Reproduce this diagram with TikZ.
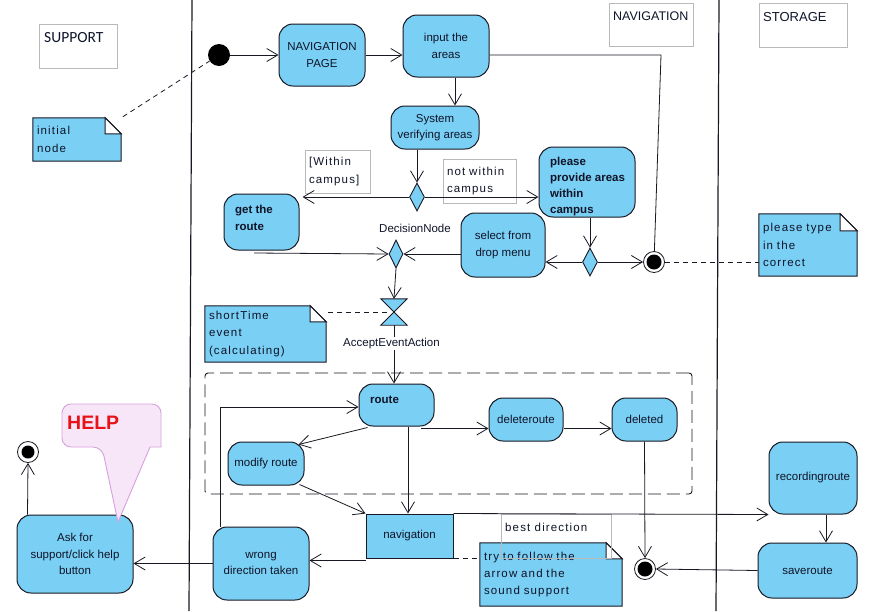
\documentclass[tikz,border=0pt]{standalone}
\usepackage{fontspec}
\setmainfont{Liberation Sans}
\newfontfamily\notefam[LetterSpace=10]{Liberation Sans}
\newfontfamily\calfam{Carlito}
\usetikzlibrary{arrows.meta,shapes.geometric,backgrounds}
\definecolor{actfill}{RGB}{122,207,244}
\definecolor{bordc}{RGB}{25,25,35}
\definecolor{txtc}{RGB}{15,20,40}
\definecolor{lblgray}{RGB}{185,185,185}
\definecolor{helpfill}{RGB}{246,230,248}
\definecolor{helpdraw}{RGB}{215,160,220}
\definecolor{helpred}{RGB}{230,20,25}
\newcommand\bxfont{\fontsize{11.5pt}{16.5pt}\selectfont}
\newcommand\ntfont{\notefam\fontsize{11.5pt}{17.3pt}\selectfont}
\newcommand\mydogear[2]{%
  \begin{scope}[on background layer]
    \draw[notest] (#1.north west) -- ([xshift=-#2pt]#1.north east) -- ([yshift=-#2pt]#1.north east) -- (#1.south east) -- (#1.south west) -- cycle;
    \draw[notest, fill=white] ([xshift=-#2pt]#1.north east) -- ([yshift=-#2pt]#1.north east) -- ([xshift=-#2pt,yshift=-#2pt]#1.north east) -- cycle;
  \end{scope}}
\tikzset{
 act/.style={draw=bordc, fill=actfill, rounded corners=14pt, line width=1pt, inner sep=2pt, align=center, font=\bxfont, text=txtc},
 plainrect/.style={draw=bordc, fill=actfill, line width=1pt, inner sep=2pt, font=\bxfont, text=txtc},
 boldtxt/.style={font=\bxfont\bfseries, text=txtc, inner sep=0pt, align=left},
 notebox/.style={inner xsep=4pt, inner ysep=0pt, align=left, font=\ntfont, text=txtc},
 notest/.style={draw=bordc, fill=actfill, line width=1pt},
 guard/.style={draw=lblgray, line width=0.7pt, inner xsep=4pt, inner ysep=0pt, align=left, font=\ntfont, text=txtc},
 heading/.style={draw=lblgray, line width=0.8pt, inner sep=0pt},
 flow/.style={draw=bordc, line width=0.8pt, -{Straight Barb[length=11pt,width=13pt,line width=0.8pt]}},
 link/.style={draw=bordc, line width=0.8pt},
 notelink/.style={draw=bordc, line width=0.8pt, dash pattern=on 5pt off 4pt},
 decision/.style={diamond, draw=bordc, fill=actfill, line width=0.9pt, inner sep=0pt, minimum width=15pt, minimum height=28pt},
 startnode/.style={circle, fill=black, inner sep=0pt, minimum size=22pt},
 endnode/.style={circle, draw=bordc, fill=white, line width=0.8pt, inner sep=0pt, minimum size=21pt},
 lane/.style={draw=bordc, line width=1.2pt},
}
\begin{document}
\begin{tikzpicture}[x=1pt, y=-1pt]
\useasboundingbox (0,0) rectangle (888,611);
\begin{scope}[on background layer]
\fill[white] (0,0) rectangle (888,611);
\end{scope}

% swimlane separators
\draw[lane] (192,0) -- (189,611);
\draw[lane] (719,0) -- (716,611);

% lane headings
\node[heading, minimum width=78pt, minimum height=44pt] (hsup) at (78,46) {};
\node[anchor=base west, font=\calfam\fontsize{15.5pt}{18pt}\selectfont, inner sep=0pt, text=txtc] (hsupt) at (44,42) {SUPPORT};
\node[heading, minimum width=84pt, minimum height=43pt] (hnav) at (651,24.5) {};
\node[anchor=base west, font=\fontsize{12.5pt}{15pt}\selectfont, inner sep=0pt, text=txtc] (hnavt) at (613,20) {NAVIGATION};
\node[heading, minimum width=88pt, minimum height=44pt] (hsto) at (803,25) {};
\node[anchor=base west, font=\fontsize{13pt}{15pt}\selectfont, inner sep=0pt, text=txtc] (hstot) at (763,21) {STORAGE};

% dashed region
\node[draw=bordc, line width=0.9pt, dash pattern=on 13pt off 6pt, rounded corners=3pt, minimum width=487pt, minimum height=121pt, inner sep=0pt] (region) at (448.5,433.5) {};

% activities
\node[act, minimum width=86pt, minimum height=62pt] (navpage) at (322,55) {NAVIGATION\\PAGE};
\node[act, minimum width=86pt, minimum height=62pt] (input) at (446,46) {input the\\areas};
\node[act, minimum width=88pt, minimum height=43pt] (sysver) at (435,127.5) {System\\verifying areas};
\node[act, minimum width=75pt, minimum height=56pt] (getroute) at (261.5,222) {};
\node[boldtxt, anchor=west] (getroutet) at (235,218) {get the\\route};
\node[act, minimum width=96pt, minimum height=70pt] (prov) at (587,182) {};
\node[boldtxt, anchor=west, font=\fontsize{11.5pt}{16.3pt}\selectfont\bfseries] (provt) at (550,186.5) {please\\provide areas\\within\\campus};
\node[act, minimum width=84pt, minimum height=64pt] (sel) at (503,245) {select from\\drop menu};
\node[act, minimum width=75pt, minimum height=42pt] (route) at (396.5,405) {};
\node[boldtxt, anchor=west] (routet) at (370,400) {route};
\node[act, minimum width=76pt, minimum height=43pt] (modify) at (266,463.5) {modify route};
\node[act, minimum width=74pt, minimum height=43pt] (delroute) at (526,419.5) {deleteroute};
\node[act, minimum width=65pt, minimum height=43pt] (deleted) at (644.5,419.5) {deleted};
\node[plainrect, minimum width=87pt, minimum height=44pt] (nav) at (409.5,536) {navigation};
\node[act, minimum width=96pt, minimum height=73pt] (wrong) at (261,563.5) {wrong\\direction taken};
\node[act, minimum width=116pt, minimum height=78pt] (ask) at (75,554) {Ask for\\support/click help\\button};
\node[act, minimum width=88pt, minimum height=72pt] (rec) at (813,478) {recordingroute};
\node[act, minimum width=99pt, minimum height=55pt] (save) at (807.5,570.5) {saveroute};

% control nodes
\node[startnode] (init) at (219,55) {};
\node[endnode] (fin1) at (654,262) {};
\fill[black] (fin1.center) circle (7.5pt);
\node[endnode] (fin2) at (645,569) {};
\fill[black] (fin2.center) circle (7.5pt);
\node[endnode] (fin3) at (28,452) {};
\fill[black] (fin3.center) circle (6.5pt);
\node[decision] (d1) at (417,197) {};
\node[decision] (d2) at (590,262) {};
\node[decision, minimum width=14pt] (d3) at (396,254) {};
\node[font=\bxfont, text=txtc, inner sep=0pt] (dnlabel) at (415,228) {DecisionNode};
\node[inner sep=0pt, minimum width=26pt, minimum height=26pt] (acc) at (394,312) {};
\draw[notest, line width=0.9pt] (acc.north west) -- (acc.north east) -- (acc.center) -- cycle;
\draw[notest, line width=0.9pt] (acc.south west) -- (acc.south east) -- (acc.center) -- cycle;

% notes
\node[notebox, text width=80pt, minimum height=43pt] (note1) at (77,139.5) {initial\\node};
\mydogear{note1}{16}
\node[notebox, text width=113pt, minimum height=56pt] (note2) at (265.5,334) {shortTime\\event\\(calculating)};
\mydogear{note2}{16}
\node[notebox, text width=90pt, minimum height=62pt] (note3) at (808,245) {please type\\in the\\correct};
\mydogear{note3}{17}
\node[notebox, text width=134pt, minimum height=63pt] (note4) at (551,574.5) {try to follow the\\arrow and the\\sound support};
\mydogear{note4}{16}

% guard labels
\node[guard, text width=57pt, minimum height=43pt] (gwithin) at (337.5,171.5) {[Within\\campus]};
\node[guard, text width=65pt, minimum height=44pt] (gnot) at (479.5,181) {not within\\campus};
\node[guard, minimum width=110pt, minimum height=44pt] (gbest) at (556,536) {};
\node[font=\ntfont, text=txtc, anchor=west, inner sep=0pt] (gbestt) at (505,527.5) {best direction};

% connectors
\draw[flow] (init) -- (navpage);
\draw[flow] (navpage.east) -- (input.west |- navpage.east);
\draw[flow] ([xshift=9pt]input.south) -- ([xshift=9pt]input.south |- sysver.north);
\coordinate (c1) at (661,55);
\draw[link] (input.east |- c1) -- (c1) -- (fin1);
\draw[flow] (sysver.south -| d1.north) -- (d1.north);
\draw[flow, shorten >=3pt] (d1.west) -- (getroute.east |- d1.west);
\draw[flow] (d1.east) -- (prov.west |- d1.east);
\draw[flow] (prov.south -| d2.north) -- (d2.north);
\draw[flow] (d2.west) -- (sel.east |- d2.west);
\draw[flow] (d2.east) -- (fin1.west);
\draw[notelink] (fin1.east) -- (note3.west |- fin1.east);
\draw[notelink, shorten <=2pt] (note1.north east) -- (init);
\coordinate (c2) at (254,253);
\draw[flow] (c2) -- (d3.west);
\draw[flow] (sel.west |- d3.east) -- (d3.east);
\draw[flow] (d3.south) -- (acc.north);
\draw[notelink] ([xshift=2pt]note2.east |- acc.center) -- ([xshift=-6pt]acc.center);
\draw[flow] (acc.south) -- (acc.south |- route.north);
\node[font=\bxfont, text=txtc, fill=white, inner sep=1pt] (acclabel) at (391.5,343.5) {AcceptEventAction};
\draw[flow] ([xshift=9pt,yshift=-1pt]route.south west) -- ([xshift=-6pt,yshift=-3pt]modify.north east);
\coordinate (c3) at ([xshift=-14pt,yshift=-2pt]route.south east);
\draw[flow] (c3) -- (delroute.west |- c3);
\draw[flow] (delroute.east |- c3) -- (deleted.west |- c3);
\draw[flow] (deleted.south) -- (fin2.north);
\draw[flow] ([xshift=11.5pt]route.south) -- ([xshift=11.5pt]route.south |- nav.north);
\draw[flow] ([xshift=-5pt,yshift=1pt]modify.south east) -- (nav.north west);
\draw[flow] (nav.north east) -- (rec.south west);
\coordinate (c4) at ([yshift=-2pt]nav.south west);
\draw[flow] (c4) -- (wrong.east |- c4);
\draw[notelink] (nav.south east) -- (note4.west |- nav.south east);
\coordinate (c5) at ([yshift=-2pt]route.west);
\draw[flow] ([xshift=8pt]wrong.north west) |- (c5);
\draw[flow] (wrong.west) -- (ask.east |- wrong.west);
\draw[flow] ([xshift=11pt]ask.north west) -- (fin3.south);
\draw[flow] ([xshift=13pt]rec.south) -- ([xshift=13pt]rec.south |- save.north);
\draw[flow] (save.west) -- (fin2.east);

% HELP callout
\draw[draw=helpdraw, fill=helpfill, line width=0.9pt] (118,522) -- (150,447) -- (161,447) [rounded corners=9pt] -- (161,404) -- (62,404) -- (62,447) -- (102,447) [sharp corners] -- cycle;
\node[font=\bfseries\fontsize{19.5pt}{20pt}\selectfont, text=helpred, anchor=west, inner sep=0pt] (helpt) at (67,423) {HELP};
\end{tikzpicture}
\end{document}
